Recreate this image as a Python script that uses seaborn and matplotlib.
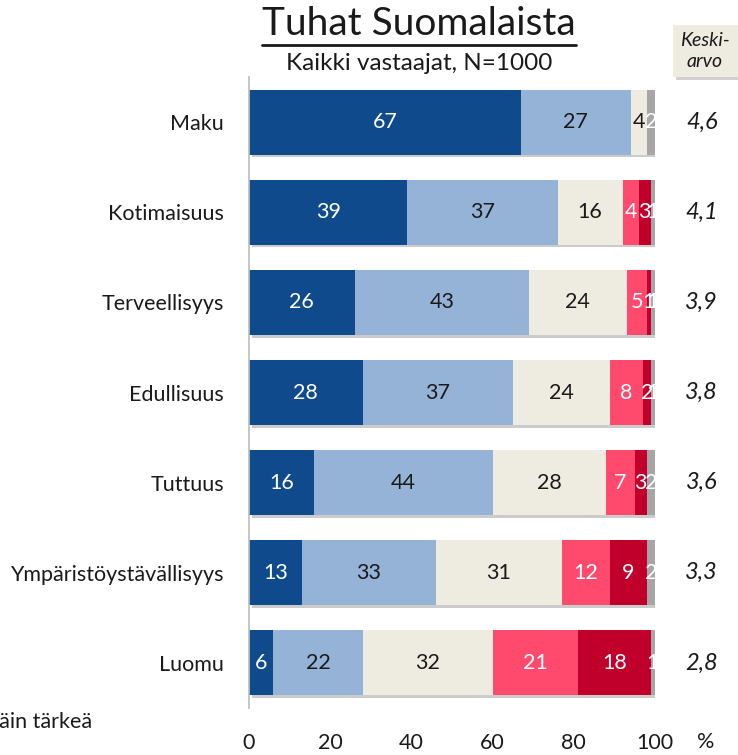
import numpy as np
import pandas as pd
import matplotlib
matplotlib.use("Agg")
import matplotlib.pyplot as plt
import matplotlib.patheffects as pe
from matplotlib.patches import Rectangle
import seaborn as sns

categories = ["Maku", "Kotimaisuus", "Terveellisyys", "Edullisuus",
              "Tuttuus", "Ympäristöystävällisyys", "Luomu"]
erittain = [67, 39, 26, 28, 16, 13, 6]
melko = [27, 37, 43, 37, 44, 33, 22]
neutraali = [4, 16, 24, 24, 28, 31, 32]
ei_kovin = [0, 4, 5, 8, 7, 12, 21]
ei_lainkaan = [0, 3, 1, 2, 3, 9, 18]
eos = [2, 1, 1, 1, 2, 2, 1]
keskiarvo = ["4,6", "4,1", "3,9", "3,8", "3,6", "3,3", "2,8"]
xticks = [0, 20, 40, 60, 80, 100]

series = [erittain, melko, neutraali, ei_kovin, ei_lainkaan, eos]
colors = ["#0E4A8C", "#95B3D7", "#EEECE1", "#FF4A6E", "#C0002B", "#A6A6A6"]
txt_colors = ["white", "#1a1a1a", "#1a1a1a", "white", "white", "white"]

sns.set_theme(style="white")
plt.rcParams["font.family"] = ["Lato", "DejaVu Sans"]

df = pd.DataFrame({"cat": categories})
cum = np.cumsum(np.array(series), axis=0)

fig = plt.figure(figsize=(7.38, 7.55), dpi=100)
ax = fig.add_axes([249 / 738, 1 - 708 / 755, 406 / 738, 631 / 755])

# draw from the full bar down so each layer covers the previous
for k in range(len(series) - 1, -1, -1):
    df["v"] = cum[k]
    sns.barplot(data=df, x="v", y="cat", orient="h", color=colors[k],
                width=0.72, saturation=1, ax=ax, linewidth=0)
full = ax.patches[:len(categories)]
for p in full:
    p.set_path_effects([pe.SimplePatchShadow(offset=(2, -2), alpha=0.25), pe.Normal()])

for k, vals in enumerate(series):
    for i, v in enumerate(vals):
        if v <= 0:
            continue
        ax.text(cum[k][i] - v / 2, i, str(v), ha="center", va="center",
                fontsize=15.5, color=txt_colors[k])

for i, m in enumerate(keskiarvo):
    ax.text(1.115, i, m, transform=ax.get_yaxis_transform(), ha="center",
            va="center", fontsize=17, style="italic", color="#1a1a1a")

ax.set_xlim(0, 100)
ax.set_ylim(6.5, -0.5)
ax.set_xticks(xticks)
ax.set_xlabel("")
ax.set_ylabel("")
ax.tick_params(axis="x", length=0, labelsize=15.5, pad=18, colors="#1a1a1a")
ax.tick_params(axis="y", which="major", length=0, labelsize=15.5, pad=18, colors="#1a1a1a")
ax.set_yticks(np.arange(-0.5, 7, 1), minor=True)
ax.tick_params(axis="y", which="minor", length=6, color="#BFBFBF", width=1)
for s in ["top", "right", "bottom"]:
    ax.spines[s].set_visible(False)
ax.spines["left"].set_color("#BFBFBF")
ax.text(1.125, -34 / 631, "%", transform=ax.transAxes, ha="center", va="center",
        fontsize=15.5, color="#1a1a1a")

fig.text(419 / 738, 1 - 24 / 755, "Tuhat Suomalaista", ha="center", va="center",
         fontsize=28, color="#1a1a1a")
fig.add_artist(plt.Line2D([262 / 738, 576 / 738], [1 - 45 / 755, 1 - 45 / 755],
                          color="#1a1a1a", lw=2))
fig.text(419 / 738, 1 - 64 / 755, "Kaikki vastaajat, N=1000", ha="center",
         va="center", fontsize=17.5, color="#1a1a1a")

box = Rectangle((673 / 738, 1 - 77 / 755), 65 / 738, 52 / 755,
                transform=fig.transFigure, facecolor="#EEECE1", edgecolor="none",
                path_effects=[pe.SimplePatchShadow(offset=(2, -2), alpha=0.25), pe.Normal()])
fig.add_artist(box)
fig.text(705 / 738, 1 - 51 / 755, "Keski-\narvo", ha="center", va="center",
         fontsize=14, style="italic", color="#1a1a1a", linespacing=1.3)

fig.text(92 / 738, 1 - 722 / 755, "Erittäin tärkeä", ha="right", va="center",
         fontsize=15.5, color="#1a1a1a")

fig.savefig("out.png", dpi=100)
